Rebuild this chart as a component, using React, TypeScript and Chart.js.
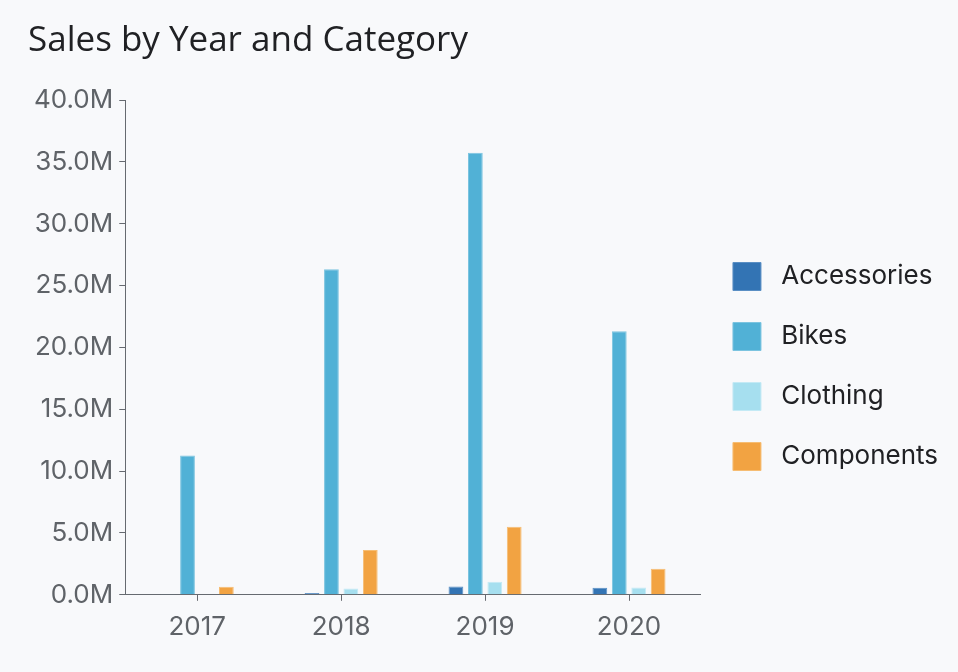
import React, { useEffect, useRef } from "react";
import { Chart, registerables } from "chart.js";

Chart.register(...registerables);

const years = ["2017", "2018", "2019", "2020"];
const accessories = [0.06e6, 0.14e6, 0.68e6, 0.56e6];
const bikes = [11.27e6, 26.32e6, 35.73e6, 21.3e6];
const clothing = [0.04e6, 0.5e6, 1.05e6, 0.59e6];
const components = [0.65e6, 3.62e6, 5.51e6, 2.11e6];

const seriesNames = ["Accessories", "Bikes", "Clothing", "Components"];
const seriesColors = ["#3374b4", "#51b1d6", "#a6dfef", "#f2a342"];
const seriesBorders = ["#5a8fc4", "#7cc4e0", "#c4eaf5", "#f6bd73"];

const BG = "#f8f9fb";
const FONT = "Inter, 'Noto Sans', sans-serif";

export default function App() {
  const ref = useRef<HTMLCanvasElement | null>(null);

  useEffect(() => {
    document.body.style.margin = "0";
    document.body.style.background = BG;
    const canvas = ref.current;
    if (!canvas) return;
    const data = [accessories, bikes, clothing, components];
    const defaultLabels = (Chart.defaults.plugins.legend.labels as any).generateLabels;
    const chart = new Chart(canvas, {
      type: "bar",
      data: {
        labels: years,
        datasets: seriesNames.map((name, i) => ({
          label: name,
          data: data[i],
          backgroundColor: seriesColors[i],
          borderColor: seriesBorders[i],
          borderWidth: 1,
          categoryPercentage: 0.54,
          barPercentage: 0.76,
        })),
      },
      options: {
        animation: false,
        responsive: false,
        maintainAspectRatio: false,
        layout: { padding: { left: 28, right: 10, top: 0, bottom: 18 } },
        plugins: {
          title: {
            display: true,
            text: "Sales by Year and Category",
            align: "start",
            color: "#202124",
            font: { family: "'Open Sans', Inter, sans-serif", size: 35, weight: "500" },
            padding: { top: 20, bottom: 38 },
          },
          legend: {
            position: "right",
            align: "center",
            maxWidth: 400,
            title: {
              display: true,
              text: " ",
              font: { size: 10 },
              padding: { top: 34, bottom: 33 },
            },
            labels: {
              boxWidth: 28,
              boxHeight: 28,
              padding: 32,
              color: "#202124",
              font: { family: FONT, size: 26 },
              generateLabels: (c: any) =>
                defaultLabels(c).map((l: any) => ({ ...l, text: " " + l.text })),
            },
          },
          tooltip: { enabled: false },
        },
        scales: {
          x: {
            grid: {
              display: true,
              drawOnChartArea: false,
              drawTicks: true,
              tickLength: 6,
              offset: false,
              color: "#666a70",
            },
            border: { display: true, color: "#666a70", width: 1 },
            ticks: {
              color: "#5f6368",
              padding: 11,
              font: { family: FONT, size: 26 },
            },
          },
          y: {
            min: 0,
            max: 40e6,
            grid: {
              display: true,
              drawOnChartArea: false,
              drawTicks: true,
              tickLength: 6,
              color: "#666a70",
            },
            border: { display: true, color: "#666a70", width: 1 },
            ticks: {
              stepSize: 5e6,
              color: "#5f6368",
              padding: 6,
              font: { family: FONT, size: 26 },
              callback: (v: any) => (Number(v) / 1e6).toFixed(1) + "M",
            },
          },
        },
      },
    });
    let alive = true;
    const fonts: any = (document as any).fonts;
    if (fonts && fonts.load) {
      Promise.all([
        fonts.load("26px Inter"),
        fonts.load("500 35px 'Open Sans'"),
      ])
        .then(() => {
          if (alive) chart.update();
        })
        .catch(() => {});
    }
    return () => {
      alive = false;
      chart.destroy();
    };
  }, []);

  return (
    <div style={{ width: 958, height: 672, background: BG }}>
      <canvas ref={ref} width={958} height={672} style={{ display: "block" }} />
    </div>
  );
}
